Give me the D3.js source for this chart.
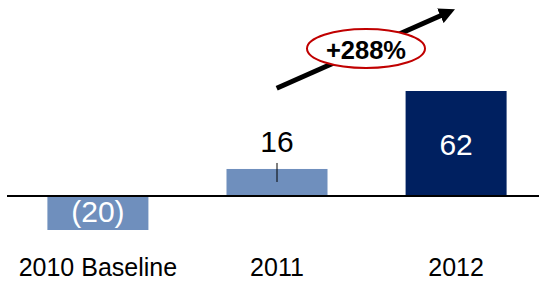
<!DOCTYPE html>
<html>
<head>
<meta charset="utf-8">
<script src="https://cdn.jsdelivr.net/npm/d3@7"></script>
<style>
  body { margin: 0; background: #fff; }
  text { font-family: "Liberation Sans", Arial, sans-serif; }
</style>
</head>
<body>
<div id="chart"></div>
<script>
// chart data
const categories = ["2010 Baseline", "2011", "2012"];
const values = [-20, 16, 62];
const valueLabels = ["(20)", "16", "62"];
const growthLabel = "+288%";

const width = 539;
const height = 281;

const svg = d3.select("#chart").append("svg")
  .attr("width", width)
  .attr("height", height);

// scales
const xScale = d3.scaleBand()
  .domain(categories)
  .range([8, 546])
  .paddingInner(0.436)
  .paddingOuter(0.22);

const yScale = d3.scaleLinear()
  .domain([-20, 62])
  .range([230, 91]);

const barColor = ["#6f8fbd", "#6f8fbd", "#002060"];

// bars
svg.selectAll("rect.bar")
  .data(values)
  .enter().append("rect")
  .attr("class", "bar")
  .attr("x", (d, i) => xScale(categories[i]))
  .attr("width", xScale.bandwidth())
  .attr("y", d => yScale(Math.max(0, d)))
  .attr("height", d => Math.abs(yScale(d) - yScale(0)))
  .attr("fill", (d, i) => barColor[i]);

// zero line
svg.append("line")
  .attr("x1", 7).attr("x2", width)
  .attr("y1", yScale(0)).attr("y2", yScale(0))
  .attr("stroke", "#000").attr("stroke-width", 2);

// small tick inside the 2011 bar
const cx2011 = xScale("2011") + xScale.bandwidth() / 2;
svg.append("line")
  .attr("x1", cx2011).attr("x2", cx2011)
  .attr("y1", yScale(16) - 6).attr("y2", yScale(16) + 13)
  .attr("stroke", "#000").attr("stroke-width", 1);

// value labels
svg.selectAll("text.val")
  .data(values)
  .enter().append("text")
  .attr("class", "val")
  .attr("x", (d, i) => xScale(categories[i]) + xScale.bandwidth() / 2)
  .attr("y", (d, i) => {
    if (d < 0) return yScale(d) - 8;
    if (i === 1) return yScale(d) - 17;
    return yScale(d) + 64;
  })
  .attr("text-anchor", "middle")
  .attr("font-size", 30)
  .attr("fill", (d, i) => i === 1 ? "#000" : "#fff")
  .text((d, i) => valueLabels[i]);

// category labels
svg.selectAll("text.cat")
  .data(categories)
  .enter().append("text")
  .attr("class", "cat")
  .attr("x", d => xScale(d) + xScale.bandwidth() / 2)
  .attr("y", 275.5)
  .attr("text-anchor", "middle")
  .attr("font-size", 25)
  .attr("fill", "#000")
  .text(d => d);

// growth arrow
svg.append("defs").append("marker")
  .attr("id", "head")
  .attr("viewBox", "0 0 10 10")
  .attr("refX", 2).attr("refY", 5)
  .attr("markerWidth", 3.2).attr("markerHeight", 3.2)
  .attr("orient", "auto")
  .append("path")
  .attr("d", "M0,0 L10,5 L0,10 z")
  .attr("fill", "#000");

svg.append("line")
  .attr("x1", 276.7).attr("y1", 88.3)
  .attr("x2", 443.3).attr("y2", 14.5)
  .attr("stroke", "#000").attr("stroke-width", 5)
  .attr("marker-end", "url(#head)");

svg.append("ellipse")
  .attr("cx", 366).attr("cy", 48.5)
  .attr("rx", 59).attr("ry", 19.5)
  .attr("fill", "#fff")
  .attr("stroke", "#c00000").attr("stroke-width", 2);

svg.append("text")
  .attr("x", 366).attr("y", 58.5)
  .attr("text-anchor", "middle")
  .attr("font-size", 25.5)
  .attr("font-weight", "bold")
  .attr("fill", "#000")
  .text(growthLabel);
</script>
</body>
</html>
